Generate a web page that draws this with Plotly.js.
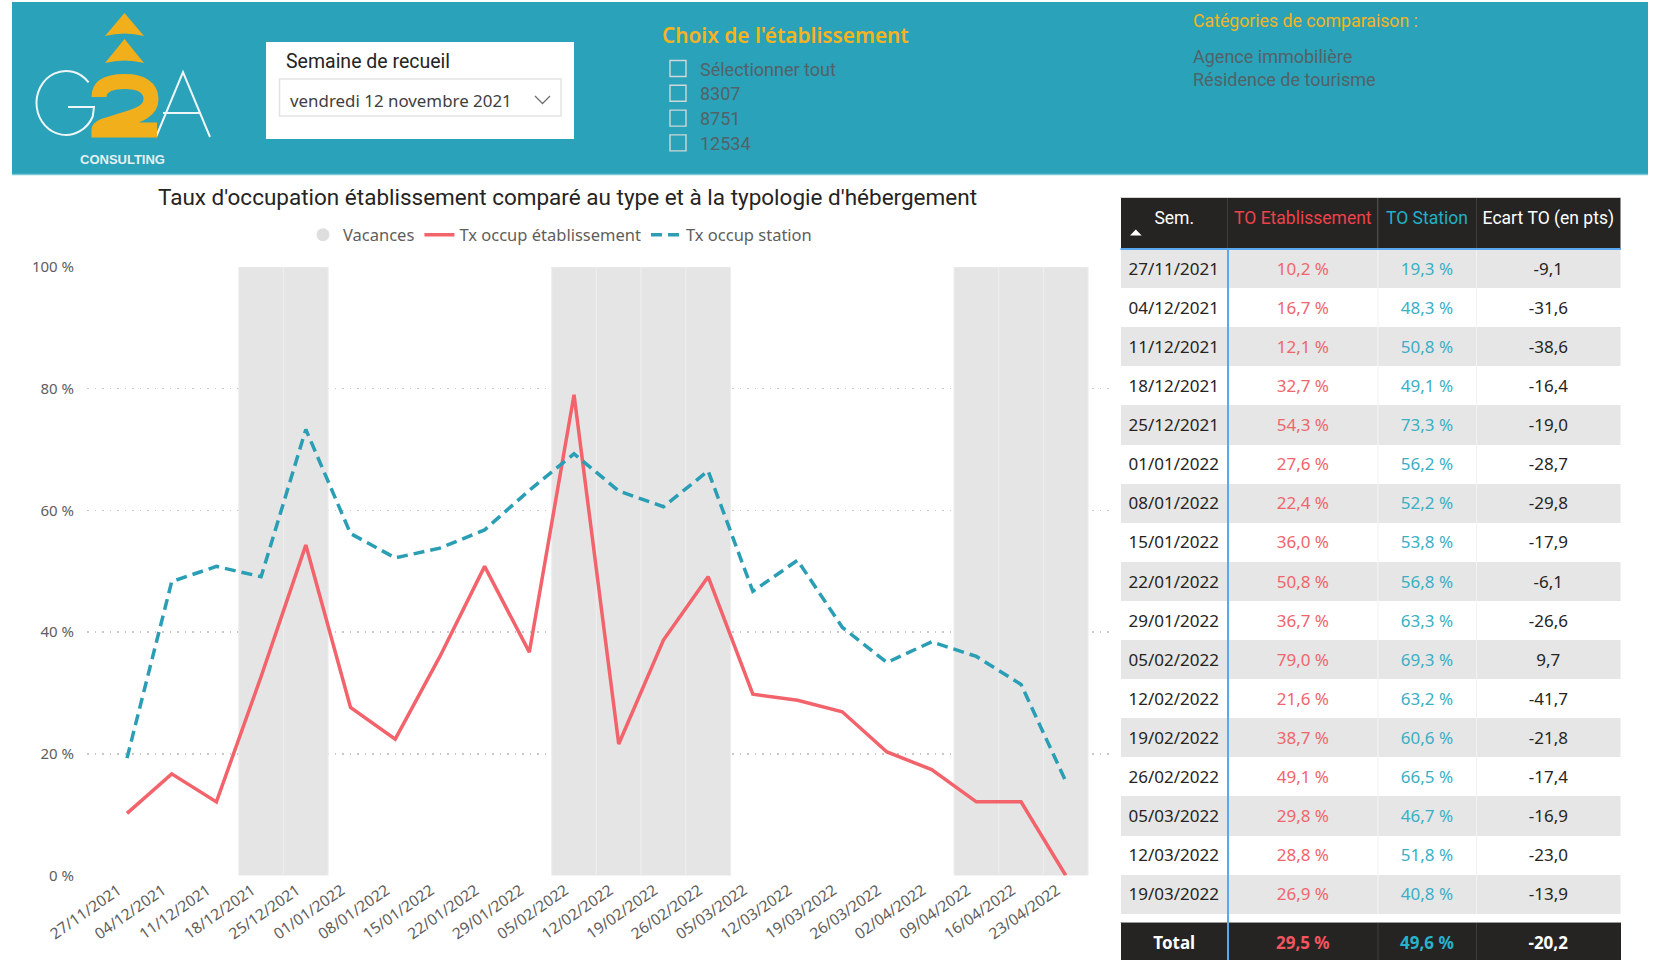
<!DOCTYPE html>
<html><head><meta charset="utf-8">
<script src="https://cdn.plot.ly/plotly-3.0.1.min.js"></script>
<style>html,body{margin:0;padding:0;background:#fff;}#chart{width:1660px;height:960px;}</style>
</head><body><div id="chart"></div>
<script>
// ---------- DATA ----------
const weeks = ['27/11/2021','04/12/2021','11/12/2021','18/12/2021','25/12/2021','01/01/2022','08/01/2022','15/01/2022','22/01/2022','29/01/2022','05/02/2022','12/02/2022','19/02/2022','26/02/2022','05/03/2022','12/03/2022','19/03/2022','26/03/2022','02/04/2022','09/04/2022','16/04/2022','23/04/2022'];
const tauxEtablissement = [10.2,16.7,12.1,32.7,54.3,27.6,22.4,36.0,50.8,36.7,79.0,21.6,38.7,49.1,29.8,28.8,26.9,20.3,17.4,12.1,12.1,0.0];
const tauxStation = [19.3,48.3,50.8,49.1,73.3,56.2,52.2,53.8,56.8,63.3,69.3,63.2,60.6,66.5,46.7,51.8,40.8,35.0,38.4,36.0,31.4,15.5];
const vacances = [0,0,0,1,1,0,0,0,0,0,1,1,1,1,0,0,0,0,0,1,1,1];
const yTickValues = [0,20,40,60,80,100];

const tableHeaders = ['Sem.','TO Etablissement','TO Station','Ecart TO (en pts)'];
const tableSem = ['27/11/2021','04/12/2021','11/12/2021','18/12/2021','25/12/2021','01/01/2022','08/01/2022','15/01/2022','22/01/2022','29/01/2022','05/02/2022','12/02/2022','19/02/2022','26/02/2022','05/03/2022','12/03/2022','19/03/2022'];
const tableEtab = [10.2,16.7,12.1,32.7,54.3,27.6,22.4,36.0,50.8,36.7,79.0,21.6,38.7,49.1,29.8,28.8,26.9];
const tableStation = [19.3,48.3,50.8,49.1,73.3,56.2,52.2,53.8,56.8,63.3,69.3,63.2,60.6,66.5,46.7,51.8,40.8];
const tableEcart = [-9.1,-31.6,-38.6,-16.4,-19.0,-28.7,-29.8,-17.9,-6.1,-26.6,9.7,-41.7,-21.8,-17.4,-16.9,-23.0,-13.9];
const totalLabel = 'Total';
const totalValues = [29.5, 49.6, -20.2];

const etablissements = ['Sélectionner tout','8307','8751','12534'];
const categoriesComparaison = ['Agence immobilière','Résidence de tourisme'];

// ---------- HELPERS ----------
const W = 1660, H = 960;
const fr = v => v.toFixed(1).replace('.', ',');
const nb = s => s.replace(/ /g, '\u00a0');
const RED = '#F2636B', TEAL = '#2A9EB4';

function arcPath(cx, cy, rx, ry, a0, a1, move) {
  const r = Math.PI/180;
  const segs = Math.ceil(Math.abs(a1-a0)/90);
  const step = (a1-a0)/segs;
  let s = '';
  const t0 = a0*r;
  if (move) s += `M ${cx+rx*Math.cos(t0)} ${cy+ry*Math.sin(t0)} `;
  for (let i=0;i<segs;i++){
    const ta = (a0+step*i)*r, tb = (a0+step*(i+1))*r;
    const k = 4/3*Math.tan((tb-ta)/4);
    const p1x = cx+rx*(Math.cos(ta)-k*Math.sin(ta)), p1y = cy+ry*(Math.sin(ta)+k*Math.cos(ta));
    const p2x = cx+rx*(Math.cos(tb)+k*Math.sin(tb)), p2y = cy+ry*(Math.sin(tb)-k*Math.cos(tb));
    s += `C ${p1x} ${p1y}, ${p2x} ${p2y}, ${cx+rx*Math.cos(tb)} ${cy+ry*Math.sin(tb)} `;
  }
  return s;
}

const shapes = [];
const ann = [];
const px = {xref:'x2', yref:'y2'};
function rect(x0,y0,x1,y1,fill,lc,lw,layer){shapes.push(Object.assign({type:'rect',x0,y0,x1,y1,fillcolor:fill,line:{color:lc||'rgba(0,0,0,0)',width:lw||0},layer:layer||'above'},px));}
function line(x0,y0,x1,y1,c,w){shapes.push(Object.assign({type:'line',x0,y0,x1,y1,line:{color:c,width:w},layer:'above'},px));}
function path(d,fill,lc,lw){shapes.push(Object.assign({type:'path',path:d,fillcolor:fill||'rgba(0,0,0,0)',line:{color:lc||'rgba(0,0,0,0)',width:lw||0},layer:'above'},px));}
function text(x,y,t,size,color,family,anchor,weight){ann.push(Object.assign({x,y,text:t,showarrow:false,xanchor:anchor||'left',yanchor:'middle',font:{size,color,family:family||'Roboto',weight:weight||'normal'}},px));}

// ---------- HEADER BAND ----------
rect(12,2,1648,174,'#2AA2B9');
line(12,174.5,1648,174.5,'#78C6D6',1.5);
// logo
const ORANGE = '#F2AF1C';
path('M 105 36 L 124.5 13 L 144 36 Q 124.5 31 105 36 Z', ORANGE);
path('M 105 63 L 124.5 39 L 144 63 Q 124.5 58 105 63 Z', ORANGE);
path(arcPath(66,103,29.5,32,-40,-335,true)+' L 94 107 L 68 107', null, '#EEF6F8', 2);
path('M 156 137 L 183 72 L 210 137 M 163 113 L 201 113', null, '#EEF6F8', 2);
path('M 99 97 C 99 85, 110 81.5, 125 81.5 C 142 81.5, 151 88, 151 99 C 151 111, 139 115, 125 119.5 C 111 124, 99 126, 99 130 L 157 130', null, ORANGE, 15);
text(122,159,'<b>CONSULTING</b>',13,'#E6F0F2','Liberation Sans','center');
// date slicer
rect(266,42,574,139,'#FFFFFF');
text(283.5,61,'Semaine de recueil',19.5,'#252423','Roboto');
rect(279.5,79,561,116,'#FFFFFF','#E3E3E3',1.5);
text(287.5,100,'vendredi 12 novembre 2021',16.9,'#404040','Noto Sans');
path('M 535 96 L 542.5 103.5 L 550 96', null, '#707070', 1.3);
// establishments slicer
text(660,34.5,'Choix de l\'établissement',20.8,'#F5B320','Noto Sans','left',600);
etablissements.forEach((e,i)=>{
  const yc = 68.5 + 24.8*i;
  rect(670,yc-8,686,yc+8,'rgba(0,0,0,0)','#CFD8DA',1.4);
  text(698,yc+0.5,e,18,'#526268','Roboto');
});
text(1191,21,'Catégories de comparaison :',17.7,'#F5B320','Roboto');
categoriesComparaison.forEach((c,i)=>text(1191,56.5+23*i,c,18,'#526268','Roboto'));

// ---------- TABLE DECORATIONS ----------
line(1120.5,197.5,1621,197.5,'#D4D4D4',1);
line(1378,198,1378,247.5,'#3E3E3E',1);
line(1476.5,198,1476.5,247.5,'#3E3E3E',1);
line(1378,250,1378,914,'#F2F2F2',1);
line(1476.5,250,1476.5,914,'#F2F2F2',1);
line(1378,923,1378,960,'#3E3E3E',1);
line(1476.5,923,1476.5,960,'#3E3E3E',1);
line(1120.5,249,1621,249,'#59A8F2',2);
line(1228,248,1228,960,'#59A8F2',2);
line(1120.5,922.5,1621,922.5,'#9A9A9A',1);
path('M 1130 235.5 L 1135.8 229.5 L 1141.7 235.5 Z','#FFFFFF');

// ---------- TRACES ----------
const colW = [107.5,150,98.5,144.5];
const tableX = [1120.5/W, 1621/W];
const rowFills = tableSem.map((_,i)=>i%2===0?'#E6E6E6':'#FFFFFF');
const traces = [
  {type:'bar', x:weeks, y:vacances.map(v=>v?1:null), width:1, marker:{color:'#E5E5E5', line:{color:'#EEEEEE', width:1}}, showlegend:false, hoverinfo:'skip'},
  {type:'scatter', mode:'markers', name:'Vacances', x:[null], y:[null], marker:{color:'#DEDEDE', size:13, symbol:'circle'}, hoverinfo:'skip'},
  {type:'scatter', mode:'lines', name:'Tx occup établissement', x:weeks, y:tauxEtablissement.map(v=>v/100), line:{color:RED, width:3.5}, hoverinfo:'skip'},
  {type:'scatter', mode:'lines', name:'Tx occup station', x:weeks, y:tauxStation.map(v=>v/100), line:{color:TEAL, width:3.5, dash:'11px,6px'}, hoverinfo:'skip'},
  {type:'scatter', x:[null], y:[null], xaxis:'x2', yaxis:'y2', showlegend:false, hoverinfo:'skip'},
  // table backgrounds (row fills)
  {type:'table', domain:{x:tableX, y:[1-921/H, 1-198/H]}, columnwidth:colW,
   header:{values:tableHeaders.map(()=>''), height:51, fill:{color:'#252423'}, line:{width:0, color:'rgba(0,0,0,0)'}},
   cells:{values:colW.map(()=>tableSem.map(()=>'')), height:39.1,
     fill:{color:colW.map(()=>rowFills)}, line:{width:0, color:'rgba(0,0,0,0)'}}
  },
  // table texts
  {type:'table', domain:{x:tableX, y:[1-926/H, 1-203/H]}, columnwidth:colW,
   header:{values:tableHeaders.map(nb), height:51, align:'center', fill:{color:'rgba(0,0,0,0)'},
     font:{family:'Roboto', size:17.5, color:['#FFFFFF','#EE424A','#22AFC8','#FFFFFF']}, line:{width:0, color:'rgba(0,0,0,0)'}},
   cells:{values:[tableSem, tableEtab.map(v=>fr(v)+'\u00a0%'), tableStation.map(v=>fr(v)+'\u00a0%'), tableEcart.map(fr)],
     height:39.1, align:['left','center','center','center'],
     fill:{color:'rgba(0,0,0,0)'},
     font:{family:'Noto Sans', size:17, color:['#252423','#F0656C','#3AAFC5','#252423']}, line:{width:0, color:'rgba(0,0,0,0)'}}
  },
  // total row
  {type:'table', domain:{x:tableX, y:[0, 1-923/H]}, columnwidth:colW,
   header:{values:['<b>'+totalLabel+'</b>'].concat(totalValues.map((v,i)=>'<b>'+fr(v)+(i<2?'\u00a0%':'')+'</b>')), height:37, align:'center', fill:{color:'#252423'},
     font:{family:'Noto Sans', size:17, color:['#FFFFFF','#F2555D','#28B2CB','#FFFFFF']}, line:{width:0, color:'rgba(0,0,0,0)'}},
   cells:{values:[[],[],[],[]]}
  }
];

const layout = {
  width:W, height:H, margin:{l:0,r:0,t:0,b:0},
  paper_bgcolor:'#FFFFFF', plot_bgcolor:'rgba(0,0,0,0)',
  bargap:0, hovermode:false,
  font:{family:'Noto Sans', color:'#605E5C'},
  title:{text:"Taux d'occupation établissement comparé au type et à la typologie d'hébergement", x:567.5/W, xanchor:'center', xref:'paper', y:1-197/H, yanchor:'middle', yref:'paper', font:{family:'Roboto', size:22.5, color:'#252423'}},
  legend:{orientation:'h', x:560/W, xanchor:'center', y:1-235/H, yanchor:'middle', font:{family:'Noto Sans', size:16.5, color:'#605E5C'}, bgcolor:'rgba(0,0,0,0)', itemwidth:30, traceorder:'normal'},
  xaxis:{domain:[87/W, 1110/W], type:'category', range:[-0.895, 21.99], tickangle:-35, ticklabelshift:-9, ticklabelstandoff:2, showgrid:false, showline:false, zeroline:false, ticks:'', tickfont:{family:'Noto Sans', size:15.5, color:'#605E5C'}, fixedrange:true},
  yaxis:{domain:[1-875.5/H, 1-267/H], range:[0,1], tickvals:yTickValues.map(v=>v/100), ticktext:yTickValues.map(v=>v+' %'), showgrid:true, gridcolor:'#C8C8C8', gridwidth:1.5, griddash:'1.5px,6px', zeroline:false, showline:false, ticks:'', ticklabelstandoff:12, tickfont:{family:'Noto Sans', size:15, color:'#605E5C'}, fixedrange:true},
  xaxis2:{domain:[0,1], range:[0,W], visible:false, anchor:'y2', fixedrange:true},
  yaxis2:{domain:[0,1], range:[H,0], visible:false, anchor:'x2', fixedrange:true},
  shapes, annotations:ann
};
Plotly.newPlot('chart', traces, layout, {displayModeBar:false, staticPlot:true});
</script></body></html>
